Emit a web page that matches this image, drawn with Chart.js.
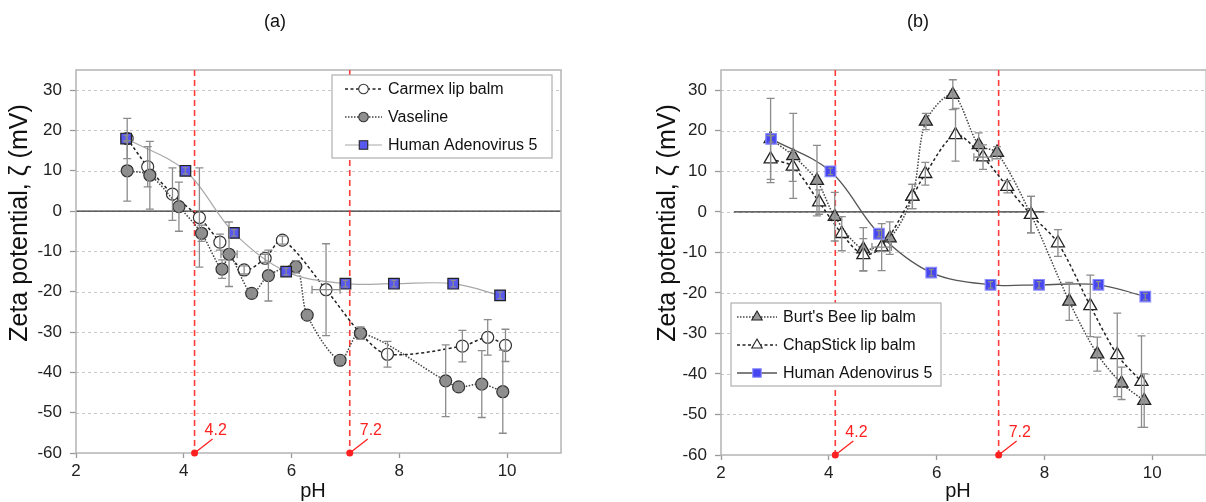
<!DOCTYPE html>
<html>
<head>
<meta charset="utf-8">
<script src="https://cdn.jsdelivr.net/npm/chart.js@4.4.0/dist/chart.umd.min.js"></script>
<style>
  html, body { margin: 0; padding: 0; background: #fff; }
  #wrap { position: relative; width: 1206px; height: 502px; overflow: hidden; }
  canvas { position: absolute; top: 0; }
  #chartA { left: 0; }
  #chartB { left: 603px; }
</style>
</head>
<body>
<div id="wrap">
  <canvas id="chartA" width="603" height="502"></canvas>
  <canvas id="chartB" width="612" height="502"></canvas>
</div>
<script>
// ---- data ----
// Human Adenovirus 5 (same series in both panels)
const hadvPH   = [2.93, 4.03, 4.93, 5.9, 7.0, 7.9, 9.0, 9.87];
const hadvZeta = [18, 10, -5.4, -15, -18, -18, -18, -20.9];
const hadvErr  = [0.8, 0.8, 0.8, 0.8, 0.8, 0.8, 0.8, 0.8];

// panel (a)
const carmexPH   = [2.95, 3.33, 3.79, 4.29, 4.67, 5.12, 5.51, 5.83, 6.64, 7.28, 7.78, 9.17, 9.64, 9.97];
const carmexZeta = [18, 11, 4.2, -1.6, -7.7, -14.6, -11.7, -7.2, -19.5, -30.3, -35.5, -33.5, -31.3, -33.3];
const carmexErrY = [5, 5, 6.5, 12.3, 2, 1, 1, 1, 11.4, 1.5, 3.2, 3.9, 4.4, 4];
const carmexErrX = [0, 0, 0, 0, 0, 0, 0, 0, 0.26, 0, 0, 0, 0, 0];

const vaselinePH   = [2.95, 3.37, 3.91, 4.33, 4.71, 4.84, 5.26, 5.57, 6.08, 6.29, 6.9, 7.28, 8.86, 9.1, 9.53, 9.92];
const vaselineZeta = [10, 8.9, 1.1, -5.5, -14.4, -10.7, -20.4, -16, -13.8, -25.8, -37, -30.3, -42.1, -43.6, -42.9, -44.8];
const vaselineErrY = [7.5, 8.4, 6.1, 2, 2.3, 8, 1, 6.3, 1.5, 1, 1, 1.5, 8.9, 1, 8.3, 10.3];
const vaselineErrX = [0, 0, 0, 0, 0, 0.15, 0, 0, 0, 0, 0, 0, 0, 0, 0, 0];

// panel (b)
const burtsPH   = [2.92, 3.34, 3.78, 4.11, 4.64, 5.13, 5.55, 5.8, 6.3, 6.78, 7.12, 7.75, 8.46, 8.98, 9.43, 9.85];
const burtsZeta = [18, 13.8, 7.7, -1.2, -9.2, -6.5, 3.8, 22.3, 28.9, 16.5, 14.6, -0.7, -22.1, -35.1, -42.3, -46.6];
const burtsErrY = [10, 10.5, 8.7, 6, 5.3, 4, 3, 2, 3.7, 3, 1.5, 4.5, 4.7, 4.2, 4, 6.6];

const chapPH   = [2.92, 3.33, 3.82, 4.24, 4.64, 4.98, 5.55, 5.79, 6.35, 6.86, 7.31, 7.75, 8.25, 8.85, 9.35, 9.8];
const chapZeta = [13, 11.2, 2.4, -5.4, -10.6, -8.7, 3.8, 9.4, 19, 13.5, 6.2, -0.7, -7.7, -23.2, -35.3, -41.9];
const chapErrY = [5.8, 3.7, 3, 4.2, 4, 5.8, 3, 2.8, 6.5, 3, 1.5, 4.5, 3.3, 7.6, 10.3, 11.3];
const chapErrX = [0, 0, 0, 0, 0, 0.18, 0, 0, 0, 0.17, 0, 0, 0, 0, 0, 0];

// red reference lines (isoelectric points)
const refPH_A = [4.2, 7.08];
const refPH_B = [4.12, 7.15];
const refLabels = ['4.2', '7.2'];

const yTicks = [-60, -50, -40, -30, -20, -10, 0, 10, 20, 30];
const xTicks = [2, 4, 6, 8, 10];

const FONT = '"Liberation Sans", Arial, sans-serif';

function pts(xs, ys) { return xs.map((x, i) => ({ x, y: ys[i] })); }

function drawMarker(ctx, style, x, y, r, fill, stroke, lw) {
  ctx.beginPath();
  if (style === 'circle') ctx.arc(x, y, r, 0, Math.PI * 2);
  else if (style === 'rect') { const s = r * Math.SQRT1_2; ctx.rect(x - s, y - s, 2 * s, 2 * s); }
  else { ctx.moveTo(x, y - r); ctx.lineTo(x + r * 0.866, y + r * 0.5); ctx.lineTo(x - r * 0.866, y + r * 0.5); ctx.closePath(); }
  ctx.fillStyle = fill; ctx.fill();
  ctx.lineWidth = lw; ctx.strokeStyle = stroke; ctx.stroke();
}

// grid, zero line, error bars, reference lines, legend and titles
const decor = {
  id: 'decor',
  beforeDatasetsDraw(chart, args, o) {
    const { ctx, chartArea: a, scales: { x, y } } = chart;
    ctx.save();
    ctx.strokeStyle = '#c8c8c8'; ctx.lineWidth = 1; ctx.setLineDash([3, 3]);
    yTicks.forEach(v => {
      if (v === -60) return;
      const py = Math.round(y.getPixelForValue(v)) + 0.5;
      ctx.beginPath(); ctx.moveTo(a.left, py); ctx.lineTo(a.right, py); ctx.stroke();
    });
    ctx.setLineDash([]);
    // zero line
    const pz = y.getPixelForValue(0);
    ctx.strokeStyle = '#333'; ctx.lineWidth = 1.4;
    ctx.beginPath(); ctx.moveTo(x.getPixelForValue(o.zeroFrom), pz); ctx.lineTo(x.getPixelForValue(o.zeroTo), pz); ctx.stroke();
    // plot frame
    ctx.strokeStyle = '#b4b4b4'; ctx.lineWidth = 1.5;
    ctx.strokeRect(a.left, a.top, a.right - a.left, a.bottom - a.top);
    // red dashed lines
    ctx.strokeStyle = '#ff3b3b'; ctx.lineWidth = 1.6; ctx.setLineDash([6, 4]);
    o.refs.forEach(v => {
      const px = x.getPixelForValue(v);
      ctx.beginPath(); ctx.moveTo(px, a.top); ctx.lineTo(px, a.bottom); ctx.stroke();
    });
    ctx.restore();
  },
  afterDatasetsDraw(chart, args, o) {
    const { ctx, chartArea: a, scales: { x, y } } = chart;
    ctx.save();
    ctx.strokeStyle = '#8c8c8c'; ctx.lineWidth = 1.3;
    chart.data.datasets.forEach(ds => {
      ds.data.forEach((p, i) => {
        const px = x.getPixelForValue(p.x), py = y.getPixelForValue(p.y);
        const ey = ds.errY ? ds.errY[i] : 0;
        const ex = ds.errX ? ds.errX[i] : 0;
        const cap = ds.capW || 4;
        ctx.beginPath();
        if (ey) {
          const t = y.getPixelForValue(p.y + ey), b = y.getPixelForValue(p.y - ey);
          ctx.moveTo(px, t); ctx.lineTo(px, b);
          ctx.moveTo(px - cap, t); ctx.lineTo(px + cap, t);
          ctx.moveTo(px - cap, b); ctx.lineTo(px + cap, b);
        }
        if (ex) {
          const l = x.getPixelForValue(p.x - ex), r = x.getPixelForValue(p.x + ex);
          ctx.moveTo(l, py); ctx.lineTo(r, py);
          ctx.moveTo(l, py - 4); ctx.lineTo(l, py + 4);
          ctx.moveTo(r, py - 4); ctx.lineTo(r, py + 4);
        }
        ctx.stroke();
      });
    });
    // red dots with labels
    ctx.strokeStyle = '#ff2020'; ctx.fillStyle = '#ff2020'; ctx.lineWidth = 1.3;
    ctx.font = '16px ' + FONT; ctx.textBaseline = 'middle'; ctx.textAlign = 'left';
    o.refs.forEach((v, i) => {
      const px = x.getPixelForValue(v), py = a.bottom;
      ctx.beginPath(); ctx.arc(px, py, 3.5, 0, Math.PI * 2); ctx.fill();
      ctx.beginPath(); ctx.moveTo(px, py); ctx.lineTo(px + 18, py - 14); ctx.stroke();
      ctx.fillText(refLabels[i], px + 10, py - 22);
    });
    ctx.restore();
  },
  afterDraw(chart, args, o) {
    const { ctx } = chart;
    ctx.save();
    ctx.fillStyle = '#111';
    ctx.textAlign = 'center'; ctx.textBaseline = 'middle';
    ctx.font = '18px ' + FONT;
    ctx.fillText(o.title, o.titleX, 22);
    ctx.font = '20px ' + FONT;
    ctx.fillText('pH', o.phX, 491);
    ctx.save();
    ctx.translate(o.yTitleX, 223); ctx.rotate(-Math.PI / 2);
    ctx.font = '25px ' + FONT;
    ctx.fillText('Zeta potential, \u03B6 (mV)', 0, 0);
    ctx.restore();
    // legend
    const L = o.legend;
    ctx.fillStyle = '#fff'; ctx.strokeStyle = '#b0b0b0'; ctx.lineWidth = 1.2;
    ctx.fillRect(L.x, L.y, L.w, L.h); ctx.strokeRect(L.x, L.y, L.w, L.h);
    L.items.forEach((idx, k) => {
      const ds = chart.data.datasets[idx];
      const ry = L.y + L.first + k * L.step;
      ctx.strokeStyle = ds.borderColor; ctx.lineWidth = ds.borderWidth;
      ctx.setLineDash(ds.borderDash || []);
      ctx.beginPath(); ctx.moveTo(L.x + L.lx0, ry); ctx.lineTo(L.x + L.lx1, ry); ctx.stroke();
      ctx.setLineDash([]);
      drawMarker(ctx, ds.pointStyle, L.x + (L.lx0 + L.lx1) / 2, ry, ds.pointRadius * 0.8,
        ds.pointBackgroundColor, ds.pointBorderColor, 1.1);
      ctx.fillStyle = '#111'; ctx.textAlign = 'left'; ctx.font = '16px ' + FONT;
      ctx.fillText(ds.label, L.x + L.tx, ry + 1);
    });
    ctx.restore();
  }
};

function axes(yWidth, xHeight) {
  return {
    x: {
      type: 'linear', min: 2, max: 11,
      afterBuildTicks: s => { s.ticks = xTicks.map(v => ({ value: v })); },
      afterFit: s => { s.height = xHeight; },
      ticks: { font: { family: FONT, size: 17 }, color: '#222', padding: 3 },
      grid: { drawOnChartArea: false, drawTicks: true, tickLength: 5, tickColor: '#999', tickWidth: 1.3 },
      border: { display: false }
    },
    y: {
      type: 'linear', min: -60, max: 35,
      afterBuildTicks: s => { s.ticks = yTicks.map(v => ({ value: v })); },
      afterFit: s => { s.width = yWidth; },
      ticks: { font: { family: FONT, size: 17 }, color: '#222', padding: 8 },
      grid: { drawOnChartArea: false, drawTicks: true, tickLength: 6, tickColor: '#999', tickWidth: 1.3 },
      border: { display: false }
    }
  };
}

const hadvStyle = {
  label: 'Human Adenovirus 5', data: pts(hadvPH, hadvZeta), errY: hadvErr, capW: 2.5,
  showLine: true, tension: 0.35, pointStyle: 'rect', pointRadius: 7.5,
  pointBorderWidth: 1.2, order: 0
};

new Chart(document.getElementById('chartA'), {
  type: 'scatter',
  data: {
    datasets: [
      Object.assign({}, hadvStyle, {
        borderColor: '#a8a8a8', borderWidth: 1.2,
        pointBackgroundColor: '#5858ee', pointBorderColor: '#222'
      }),
      {
        label: 'Vaseline', data: pts(vaselinePH, vaselineZeta), errY: vaselineErrY, errX: vaselineErrX,
        showLine: true, tension: 0.3, borderColor: '#444', borderWidth: 1.5, borderDash: [1.5, 1.5],
        pointStyle: 'circle', pointRadius: 6, pointBackgroundColor: '#8f8f8f', pointBorderColor: '#333',
        pointBorderWidth: 1.2, order: 1
      },
      {
        label: 'Carmex lip balm', data: pts(carmexPH, carmexZeta), errY: carmexErrY, errX: carmexErrX,
        showLine: true, tension: 0.3, borderColor: '#222', borderWidth: 1.5, borderDash: [3, 2.5],
        pointStyle: 'circle', pointRadius: 6, pointBackgroundColor: '#fff', pointBorderColor: '#333',
        pointBorderWidth: 1.2, order: 2
      }
    ]
  },
  options: {
    responsive: false, animation: false, events: [],
    layout: { padding: { left: 0, right: 42, top: 70, bottom: 0 } },
    scales: axes(76, 49),
    plugins: {
      legend: { display: false }, tooltip: { enabled: false },
      decor: {
        title: '(a)', titleX: 275, phX: 313, yTitleX: 20,
        zeroFrom: 2, zeroTo: 11, refs: refPH_A,
        legend: { x: 332, y: 75, w: 220, h: 83, first: 14, step: 28, lx0: 13, lx1: 50, tx: 56, items: [2, 1, 0] }
      }
    }
  },
  plugins: [decor]
});

// canvas B is a little wider than its half of the page: Chart.js keeps room for half
// of the last tick label on the right, which lands outside the visible area
new Chart(document.getElementById('chartB'), {
  type: 'scatter',
  data: {
    datasets: [
      Object.assign({}, hadvStyle, {
        borderColor: '#555', borderWidth: 1.3,
        pointBackgroundColor: '#4646f0', pointBorderColor: '#8a8aff'
      }),
      {
        label: "Burt's Bee lip balm", data: pts(burtsPH, burtsZeta), errY: burtsErrY,
        showLine: true, tension: 0.3, borderColor: '#444', borderWidth: 1.5, borderDash: [1.5, 1.5],
        pointStyle: 'triangle', pointRadius: 7.5, pointBackgroundColor: '#9a9a9a', pointBorderColor: '#222',
        pointBorderWidth: 1.3, order: 2
      },
      {
        label: 'ChapStick lip balm', data: pts(chapPH, chapZeta), errY: chapErrY, errX: chapErrX,
        showLine: true, tension: 0.3, borderColor: '#222', borderWidth: 1.5, borderDash: [3, 2.5],
        pointStyle: 'triangle', pointRadius: 7.5, pointBackgroundColor: '#fff', pointBorderColor: '#222',
        pointBorderWidth: 1.3, order: 1
      }
    ]
  },
  options: {
    responsive: false, animation: false, events: [],
    layout: { padding: { left: 42, right: 0, top: 70, bottom: 0 } },
    scales: axes(76, 47),
    plugins: {
      legend: { display: false }, tooltip: { enabled: false },
      decor: {
        title: '(b)', titleX: 315, phX: 355, yTitleX: 65,
        zeroFrom: 2.24, zeroTo: 8.0, refs: refPH_B,
        legend: { x: 128, y: 303, w: 210, h: 83, first: 14, step: 28, lx0: 6, lx1: 46, tx: 52, items: [1, 2, 0] }
      }
    }
  },
  plugins: [decor]
});
</script>
</body>
</html>
